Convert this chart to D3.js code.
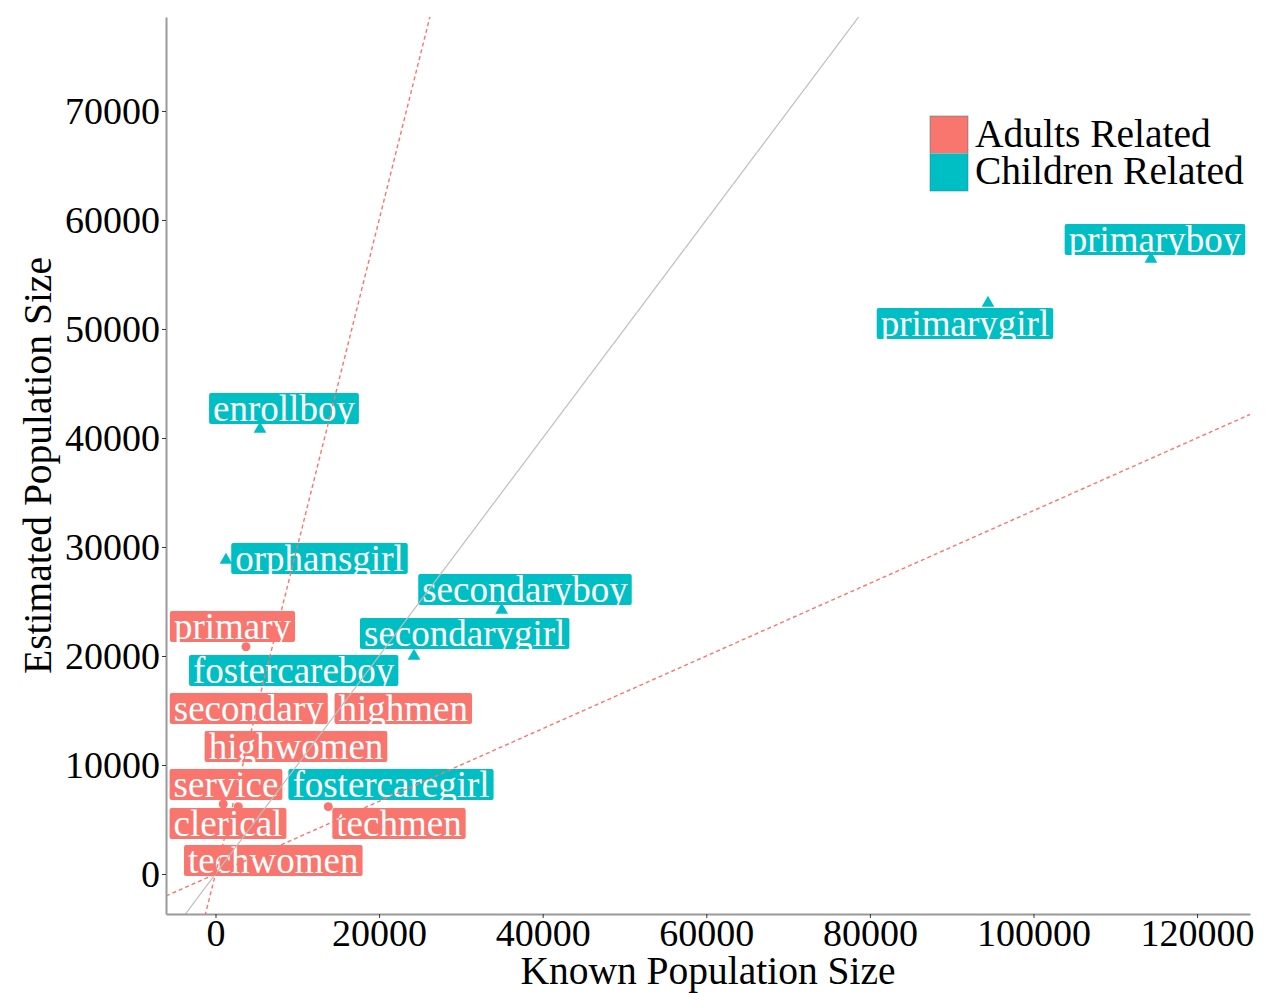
<!DOCTYPE html>
<html><head><meta charset="utf-8">
<script src="https://cdn.jsdelivr.net/npm/d3@7"></script>
<style>body{margin:0;background:#fff}svg{display:block}text{font-family:"Liberation Serif","Times New Roman",serif}</style>
</head><body><svg id="c" width="1267" height="993"></svg>
<script>
// ---- data ----
const names = ["primary","secondary","highmen","highwomen","service","clerical","techmen","techwomen",
  "primaryboy","primarygirl","enrollboy","orphansgirl","secondaryboy","secondarygirl","fostercareboy","fostercaregirl"];
const groups = ["Adults Related","Adults Related","Adults Related","Adults Related","Adults Related","Adults Related","Adults Related","Adults Related",
  "Children Related","Children Related","Children Related","Children Related","Children Related","Children Related","Children Related","Children Related"];
const knownSize = [3730,4220,22550,10330,950,2790,13790,6660, 114364,94438,5440,1280,34990,24270,10330,21330];
const estimatedSize = [20850,15050,15050,11560,6420,6180,6180,1100, 56514,52477,40917,28900,24312,20092,18530,8070];
// repelled label anchors (data units: centre x, baseline y)
const labelKnown = [2078,4071,22958,9841,1284,1528,22433,7066, 114853,91626,8374,12714,37836,30465,9560,21455];
const labelEst = [21560,14037,14037,10550,7064,3486,3486,92, 57064,49358,41560,27798,24954,20917,17523,7064];
const xTicks = [0,20000,40000,60000,80000,100000,120000];
const yTicks = [0,10000,20000,30000,40000,50000,60000,70000];
const refSlopes = [1,3,1/3];
const groupNames = ["Adults Related","Children Related"];
const groupColors = ["#F8766D","#00BFC4"];

const svg = d3.select("#c");
const L=166,R=1250,T=17,B=914;
const x = d3.scaleLinear().domain([-6050,126470]).range([L,R]);
const y = d3.scaleLinear().domain([-3670,78620]).range([B,T]);
const col = d3.scaleOrdinal().domain(groupNames).range(groupColors);
const FS = 37;

svg.append("defs").append("clipPath").attr("id","clip")
  .append("rect").attr("x",L).attr("y",T).attr("width",R-L).attr("height",B-T);

// points
const data = names.map((n,i)=>({n,g:groups[i],kx:knownSize[i],ey:estimatedSize[i],lx:labelKnown[i],ly:labelEst[i]}));
const pts = svg.append("g");
data.forEach(d=>{
  if(d.g===groupNames[0]){
    pts.append("circle").attr("cx",x(d.kx)).attr("cy",y(d.ey)).attr("r",4.5).attr("fill",col(d.g));
  } else {
    pts.append("path").attr("d",d3.symbol(d3.symbolTriangle,70)())
      .attr("transform",`translate(${x(d.kx)},${y(d.ey)+1})`).attr("fill",col(d.g));
  }
});

// labels
const lab = svg.append("g");
data.forEach(d=>{
  const g = lab.append("g");
  const r = g.append("rect");
  const t = g.append("text").attr("x",x(d.lx)).attr("y",y(d.ly)).attr("text-anchor","middle")
    .attr("font-size",FS).attr("fill","#fff").text(d.n);
  const w = t.node().getComputedTextLength();
  r.attr("x",x(d.lx)-w/2-4).attr("y",y(d.ly)-28).attr("width",w+8).attr("height",31)
   .attr("rx",2).attr("fill",col(d.g));
});

// reference lines
const lines = svg.append("g").attr("clip-path","url(#clip)");
refSlopes.forEach(s=>{
  const x0=-6050,x1=126470;
  lines.append("line").attr("x1",x(x0)).attr("y1",y(s*x0)).attr("x2",x(x1)).attr("y2",y(s*x1))
    .attr("stroke", s===1?"#BEBEBE":"#F8766D").attr("stroke-width", s===1?1.2:1.4)
    .attr("stroke-dasharray", s===1?null:"4,3");
});

// axes
const xa = svg.append("g").attr("transform",`translate(0,${B})`)
  .call(d3.axisBottom(x).tickValues(xTicks).tickFormat(d3.format("d")).tickSize(4).tickSizeOuter(0).tickPadding(1));
const ya = svg.append("g").attr("transform",`translate(${L},0)`)
  .call(d3.axisLeft(y).tickValues(yTicks).tickFormat(d3.format("d")).tickSize(4).tickSizeOuter(0).tickPadding(2));
[xa,ya].forEach(a=>{
  a.select(".domain").attr("stroke","#999").attr("stroke-width",2);
  a.selectAll(".tick line").attr("stroke","#333");
  a.selectAll(".tick text").attr("font-size",38).attr("fill","#000")
   .attr("font-family",'"Liberation Serif","Times New Roman",serif');
});
ya.selectAll(".tick text").attr("dy","0.34em");
xa.selectAll(".tick text").attr("dy","0.71em");

svg.append("text").attr("x",(L+R)/2).attr("y",984).attr("text-anchor","middle")
  .attr("font-size",39.5).text("Known Population Size");
svg.append("text").attr("transform",`translate(51,${(T+B)/2}) rotate(-90)`).attr("text-anchor","middle")
  .attr("font-size",39.5).text("Estimated Population Size");

// legend
const lg = svg.append("g");
groupNames.forEach((g,i)=>{
  lg.append("rect").attr("x",930).attr("y",116+i*37.5).attr("width",38).attr("height",37.5).attr("fill",col(g));
  lg.append("text").attr("x",975).attr("y",147+i*37).attr("font-size",39.5).text(g);
});
lg.append("rect").attr("x",930).attr("y",116).attr("width",38).attr("height",75).attr("fill","none")
  .attr("stroke","#2a7f80").attr("stroke-width",1).attr("stroke-opacity",0.5);
</script></body></html>
